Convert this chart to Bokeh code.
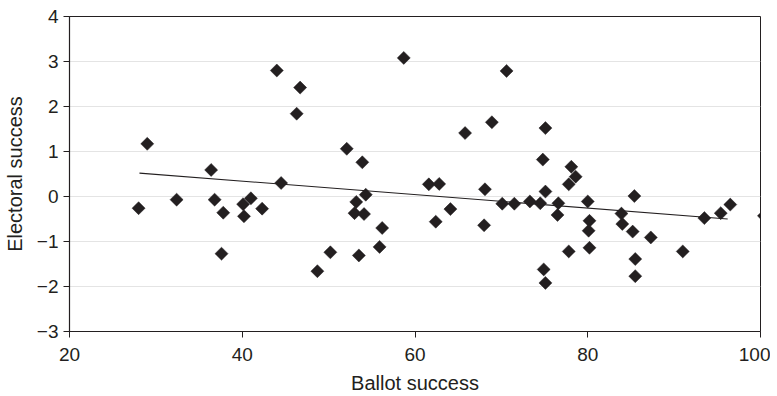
import numpy as np
from bokeh.plotting import figure
from bokeh.models import Range1d, FixedTicker, ColumnDataSource
from bokeh.embed import file_html
from bokeh.resources import INLINE

ballot = [28.0, 29.0, 32.4, 36.4, 36.8, 37.8, 37.6, 40.1, 40.2, 41.0, 42.3,
          44.0, 44.5, 46.7, 46.3, 48.7, 50.2, 52.1, 53.9, 53.2, 53.0, 54.3,
          54.1, 53.5, 56.2, 55.9, 58.7, 61.6, 62.8, 62.4, 64.1, 65.8, 68.9,
          68.1, 68.0, 70.6, 70.1, 71.5, 73.3, 74.5, 75.1, 74.8, 75.1, 74.9,
          75.1, 76.6, 76.5, 77.8, 78.1, 78.6, 77.8, 80.0, 80.2, 80.1, 80.2,
          85.4, 83.9, 84.0, 85.2, 87.3, 85.5, 85.5, 91.0, 93.5, 95.4, 96.5,
          100.4]
electoral = [-0.26, 1.17, -0.07, 0.59, -0.07, -0.36, -1.27, -0.17, -0.44, -0.04, -0.27,
             2.80, 0.30, 2.42, 1.84, -1.66, -1.24, 1.06, 0.76, -0.12, -0.37, 0.04,
             -0.39, -1.31, -0.70, -1.12, 3.08, 0.27, 0.28, -0.56, -0.28, 1.41, 1.65,
             0.16, -0.64, 2.79, -0.16, -0.16, -0.11, -0.15, 0.11, 0.82, 1.52, -1.62,
             -1.92, -0.15, -0.41, 0.27, 0.66, 0.44, -1.22, -0.11, -0.54, -0.76, -1.14,
             0.01, -0.38, -0.61, -0.78, -0.91, -1.39, -1.77, -1.22, -0.48, -0.37, -0.18,
             -0.43]

trend_x = [28.1, 96.2]
trend_y = [0.52, -0.50]

x_ticks = [20, 40, 60, 80, 100]
y_ticks = [-3, -2, -1, 0, 1, 2, 3, 4]
y_tick_labels = ["\u22123", "\u22122", "\u22121", "0", "1", "2", "3", "4"]

INK = "#231f20"
FONT = "Liberation Sans"

p = figure(width=770, height=396, output_backend="svg", toolbar_location=None,
           x_range=Range1d(20, 100), y_range=Range1d(-3, 4),
           min_border_left=68, min_border_right=10, min_border_top=16, min_border_bottom=63)

p.outline_line_color = INK
p.outline_line_width = 1
p.background_fill_color = "white"
p.border_fill_color = "white"

p.xgrid.grid_line_color = None
p.ygrid.grid_line_color = "#e4e4e4"
p.ygrid.grid_line_width = 1.2

for ax in (p.xaxis[0], p.yaxis[0]):
    ax.axis_line_color = INK
    ax.axis_line_width = 1.2
    ax.major_tick_line_color = INK
    ax.major_tick_line_width = 1
    ax.major_tick_out = 6
    ax.major_tick_in = 0
    ax.minor_tick_line_color = None
    ax.major_label_text_font = FONT
    ax.major_label_text_font_size = "19px"
    ax.major_label_text_color = INK
    ax.axis_label_text_font = FONT
    ax.axis_label_text_font_size = "20px"
    ax.axis_label_text_font_style = "normal"
    ax.axis_label_text_color = INK

p.xaxis.ticker = FixedTicker(ticks=x_ticks)
p.yaxis.ticker = FixedTicker(ticks=y_ticks)
p.yaxis.major_label_overrides = {t: l for t, l in zip(y_ticks, y_tick_labels)}
p.xaxis.axis_label = "Ballot success"
p.yaxis.axis_label = "Electoral success"
p.xaxis.major_label_standoff = 10
p.xaxis.axis_label_standoff = 8
p.yaxis.major_label_standoff = 5
p.yaxis.axis_label_standoff = 8

p.line(trend_x, trend_y, line_color=INK, line_width=1.1)

src = ColumnDataSource(dict(x=ballot, y=electoral))
p.scatter("x", "y", source=src, marker="square", angle=np.pi / 4, size=9.2,
          fill_color=INK, line_color=INK, line_width=0.5)

open("out.html", "w").write(file_html(p, INLINE))
